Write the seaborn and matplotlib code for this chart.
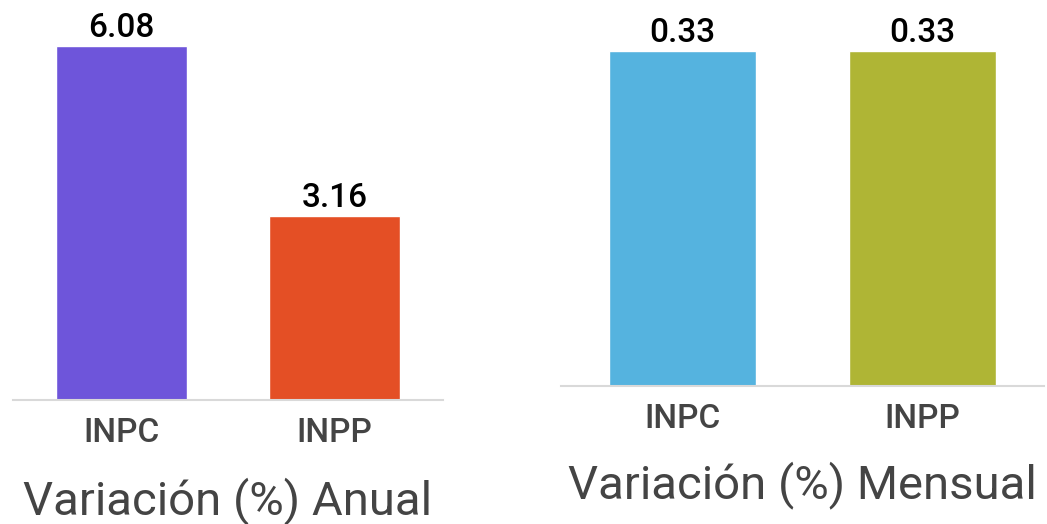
import matplotlib
matplotlib.use("Agg")
import matplotlib.pyplot as plt
import seaborn as sns

categories = ["INPC", "INPP"]
anual_values = [6.08, 3.16]
mensual_values = [0.33, 0.33]
anual_colors = ["#6E55DA", "#E44F25"]
mensual_colors = ["#55B3DF", "#AFB535"]
titles = ["Variación (%) Anual", "Variación (%) Mensual"]

sns.set_theme(style="white")
plt.rcParams["font.family"] = ["Roboto", "DejaVu Sans"]

W, H = 1047, 524
fig = plt.figure(figsize=(W / 100, H / 100), dpi=100)

def px_axes(x0, x1, y_top, y_bot):
    return fig.add_axes([x0 / W, 1 - y_bot / H, (x1 - x0) / W, (y_bot - y_top) / H])

ax1 = px_axes(13, 443, 0, 400)
ax2 = px_axes(561, 1044, 0, 386)

specs = [
    (ax1, anual_values, anual_colors, 6.08 * 400 / 354, 0.51, 0.615, titles[0], 514),
    (ax2, mensual_values, mensual_colors, 0.33 * 386 / 335, 0.506, 0.6125, titles[1], 498),
]

for ax, vals, cols, ymax, xm, w, title, tb in specs:
    sns.barplot(x=categories, y=vals, hue=categories, palette=cols, width=w,
                legend=False, ax=ax, saturation=1)
    ax.set_ylim(0, ymax)
    ax.set_xlim(-xm, 1 + xm)
    for c in ax.containers:
        ax.bar_label(c, fmt="%.2f", padding=1.5, fontsize=24, fontweight="medium", color="black")
    for s in ["top", "left", "right"]:
        ax.spines[s].set_visible(False)
    ax.spines["bottom"].set_color("#D9D9D9")
    ax.spines["bottom"].set_linewidth(1.5)
    ax.set_yticks([])
    ax.tick_params(axis="x", length=0, pad=12, labelsize=24, labelcolor="#444444")
    for t in ax.get_xticklabels():
        t.set_fontweight("medium")
    ax.set_xlabel("")
    ax.set_ylabel("")
    bb = ax.get_position()
    fig.text(bb.x0 + bb.width / 2, 1 - tb / H, title, ha="center", va="baseline",
             fontsize=34, color="#444444")

fig.savefig("out.png", dpi=100)
